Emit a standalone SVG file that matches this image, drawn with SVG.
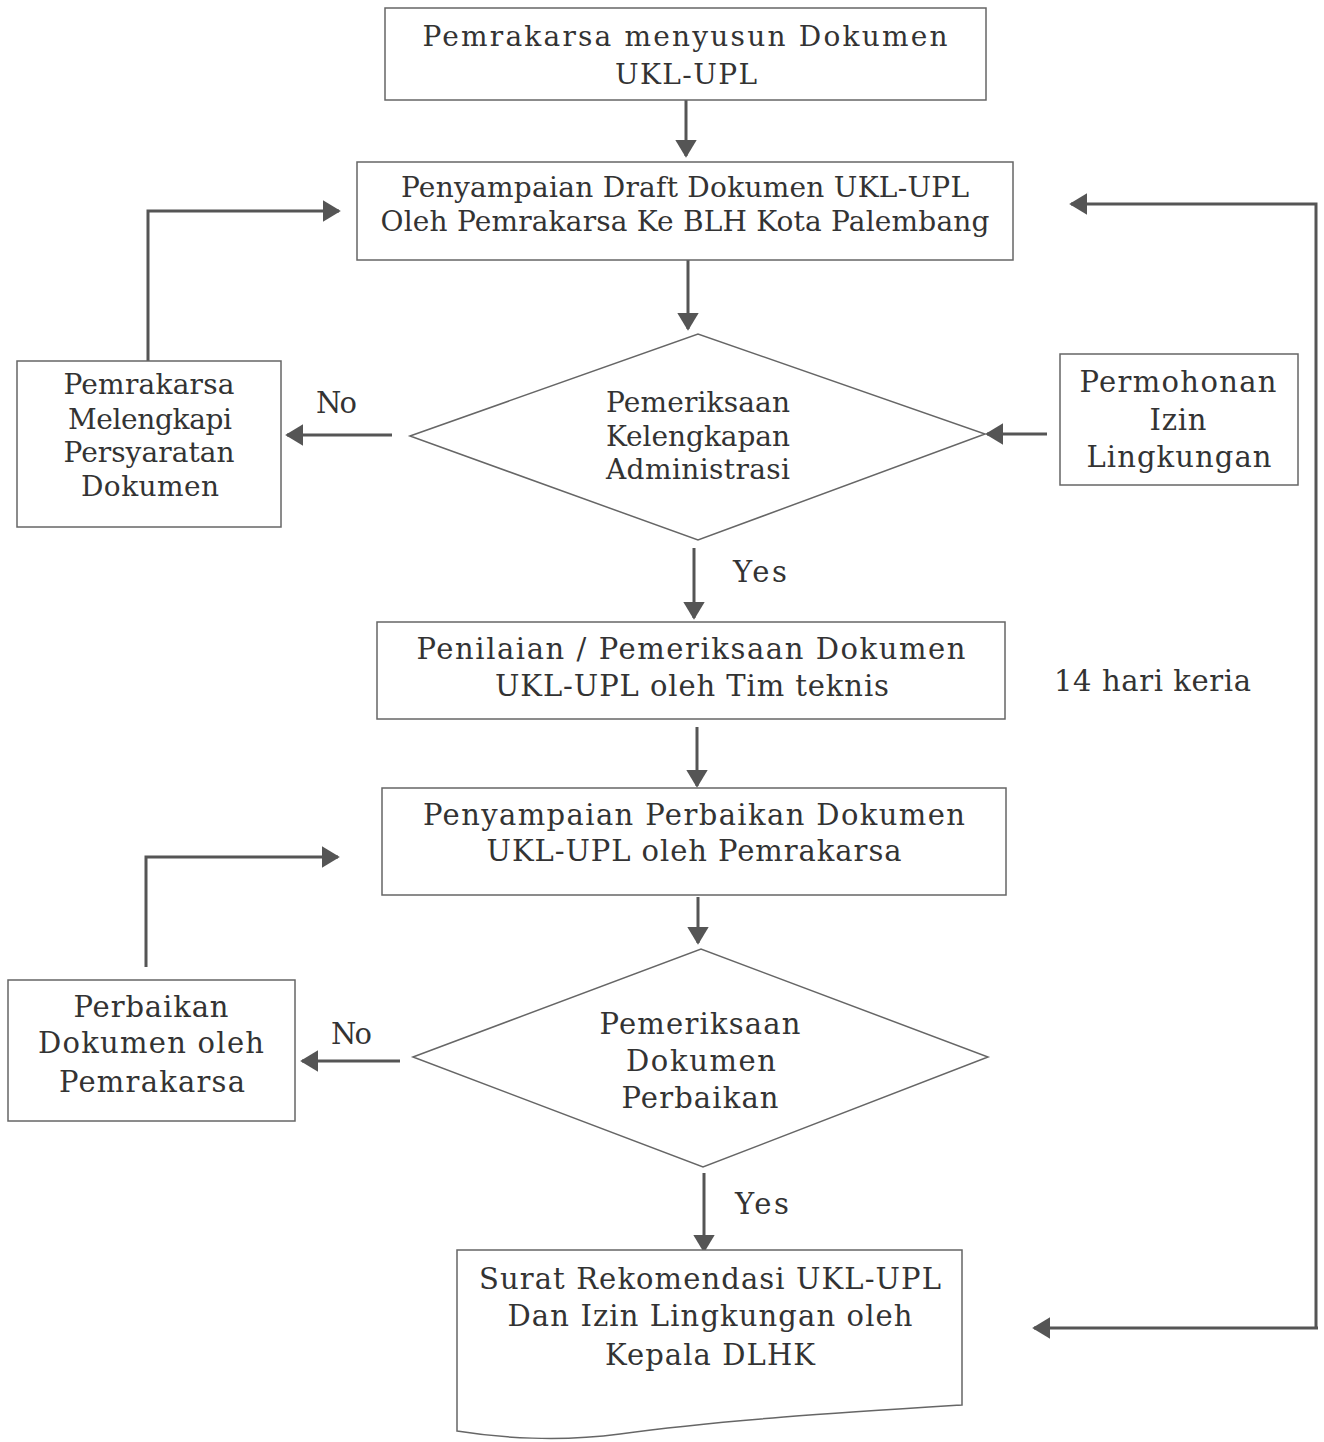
<svg xmlns="http://www.w3.org/2000/svg" width="1324" height="1442" viewBox="0 0 1324 1442">
<defs>
<marker id="ah" viewBox="0 0 10 12" refX="9" refY="6" markerWidth="6" markerHeight="7.2" orient="auto" markerUnits="strokeWidth">
<path d="M0,0 L10,6 L0,12 z" fill="#555"/>
</marker>
<style>
.box{fill:#fff;stroke:#666;stroke-width:1.5}
.t{font-family:"DejaVu Serif","Liberation Serif",serif;fill:#333;text-anchor:middle;font-size:29px}
.s{font-size:28px}
.l{font-family:"DejaVu Serif","Liberation Serif",serif;fill:#333;font-size:29px}
.ca{fill:none;stroke:#555;stroke-width:3;marker-end:url(#ah)}
</style>
</defs>
<rect width="1324" height="1442" fill="#fff"/>
<g id="connectors">
<line class="ca" x1="686" y1="100" x2="686" y2="156"/>
<line class="ca" x1="688" y1="260" x2="688" y2="329"/>
<line class="ca" x1="392" y1="435" x2="287" y2="435"/>
<polyline class="ca" points="148,361 148,211 339,211"/>
<line class="ca" x1="1047" y1="434" x2="987" y2="434"/>
<polyline class="ca" points="1316,1328 1316,204 1071,204"/>
<line class="ca" x1="1318" y1="1328" x2="1034" y2="1328"/>
<line class="ca" x1="694" y1="548" x2="694" y2="618"/>
<line class="ca" x1="697" y1="727" x2="697" y2="786"/>
<line class="ca" x1="698" y1="897" x2="698" y2="943"/>
<line class="ca" x1="400" y1="1061" x2="302" y2="1061"/>
<polyline class="ca" points="146,967 146,857 338,857"/>
<line class="ca" x1="704" y1="1173" x2="704" y2="1251"/>
</g>
<g id="n1">
<rect class="box" x="385" y="8" width="601" height="92"/>
<text class="t s" x="685" y="46" textLength="525">Pemrakarsa menyusun Dokumen</text>
<text class="t s" x="686" y="84" textLength="142">UKL-UPL</text>
</g>
<g id="n2">
<rect class="box" x="357" y="162" width="656" height="98"/>
<text class="t s" x="685" y="197" textLength="568">Penyampaian Draft Dokumen UKL-UPL</text>
<text class="t s" x="685" y="231" textLength="609">Oleh Pemrakarsa Ke BLH Kota Palembang</text>
</g>
<g id="d1">
<polygon class="box" points="410,436 698,334 985,434 698,540"/>
<text class="t s" x="698" y="412" textLength="184">Pemeriksaan</text>
<text class="t s" x="698" y="446" textLength="184">Kelengkapan</text>
<text class="t s" x="698" y="479" textLength="184">Administrasi</text>
</g>
<g id="n3">
<rect class="box" x="17" y="361" width="264" height="166"/>
<text class="t s" x="149" y="394" textLength="171">Pemrakarsa</text>
<text class="t s" x="150" y="429" textLength="164">Melengkapi</text>
<text class="t s" x="149" y="462" textLength="171">Persyaratan</text>
<text class="t s" x="150" y="496" textLength="138">Dokumen</text>
</g>
<text class="l" x="316" y="413" textLength="41">No</text>
<g id="n4">
<rect class="box" x="1060" y="354" width="238" height="131"/>
<text class="t" x="1178" y="392" textLength="197">Permohonan</text>
<text class="t" x="1178" y="430" textLength="57">Izin</text>
<text class="t" x="1179" y="467" textLength="185">Lingkungan</text>
</g>
<text class="l" x="733" y="582" textLength="54">Yes</text>
<g id="n5">
<rect class="box" x="377" y="622" width="628" height="97"/>
<text class="t" x="691" y="659" textLength="549">Penilaian / Pemeriksaan Dokumen</text>
<text class="t" x="692" y="696" textLength="394">UKL-UPL oleh Tim teknis</text>
</g>
<text class="l" x="1054" y="691" textLength="197">14 hari keria</text>
<g id="n6">
<rect class="box" x="382" y="788" width="624" height="107"/>
<text class="t" x="694" y="825" textLength="542">Penyampaian Perbaikan Dokumen</text>
<text class="t" x="694" y="861" textLength="415">UKL-UPL oleh Pemrakarsa</text>
</g>
<g id="d2">
<polygon class="box" points="413,1057 701,949 988,1057 703,1167"/>
<text class="t" x="700" y="1034" textLength="201">Pemeriksaan</text>
<text class="t" x="701" y="1071" textLength="150">Dokumen</text>
<text class="t" x="700" y="1108" textLength="157">Perbaikan</text>
</g>
<text class="l" x="331" y="1044" textLength="41">No</text>
<g id="n7">
<rect class="box" x="8" y="980" width="287" height="141"/>
<text class="t" x="151" y="1017" textLength="155">Perbaikan</text>
<text class="t" x="151" y="1053" textLength="226">Dokumen oleh</text>
<text class="t" x="152" y="1092" textLength="186">Pemrakarsa</text>
</g>
<text class="l" x="735" y="1214" textLength="54">Yes</text>
<g id="n8">
<path class="box" d="M457,1250 L962,1250 L962,1405 C850,1412 720,1420 620,1434 C560,1442 500,1438 457,1431 Z"/>
<text class="t" x="710" y="1289" textLength="462">Surat Rekomendasi UKL-UPL</text>
<text class="t" x="710" y="1326" textLength="405">Dan Izin Lingkungan oleh</text>
<text class="t" x="710" y="1365" textLength="210">Kepala DLHK</text>
</g>
</svg>
